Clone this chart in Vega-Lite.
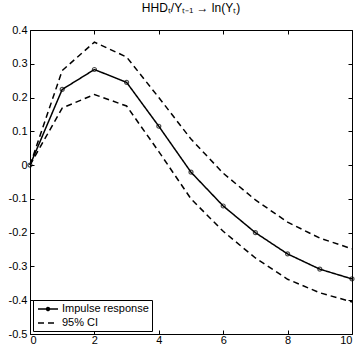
{
  "$schema": "https://vega.github.io/schema/vega-lite/v6.json",
  "width": 322,
  "height": 304,
  "autosize": "none",
  "padding": {"left": 30, "top": 30, "right": 7, "bottom": 13},
  "background": "white",
  "title": {"text": "HHDₜ/Yₜ₋₁ → ln(Yₜ)", "fontSize": 12, "font": "Liberation Sans", "fontWeight": "normal", "color": "black", "offset": 9, "anchor": "middle"},
  "config": {
    "font": "Liberation Sans",
    "view": {"stroke": "black", "strokeWidth": 1},
    "axis": {"grid": false, "domain": false, "tickColor": "black", "tickSize": -4, "labelPadding": 7, "labelColor": "black", "labelFontSize": 11, "labelFont": "Liberation Sans", "title": null}
  },
  "data": {"values": [
    {"x": 0, "value": 0, "line": "Impulse response", "series": "Impulse response"},
    {"x": 1, "value": 0.224, "line": "Impulse response", "series": "Impulse response"},
    {"x": 2, "value": 0.283, "line": "Impulse response", "series": "Impulse response"},
    {"x": 3, "value": 0.245, "line": "Impulse response", "series": "Impulse response"},
    {"x": 4, "value": 0.115, "line": "Impulse response", "series": "Impulse response"},
    {"x": 5, "value": -0.021, "line": "Impulse response", "series": "Impulse response"},
    {"x": 6, "value": -0.121, "line": "Impulse response", "series": "Impulse response"},
    {"x": 7, "value": -0.2, "line": "Impulse response", "series": "Impulse response"},
    {"x": 8, "value": -0.263, "line": "Impulse response", "series": "Impulse response"},
    {"x": 9, "value": -0.308, "line": "Impulse response", "series": "Impulse response"},
    {"x": 10, "value": -0.337, "line": "Impulse response", "series": "Impulse response"},
    {"x": 0, "value": 0, "line": "Upper", "series": "95% CI"},
    {"x": 1, "value": 0.28, "line": "Upper", "series": "95% CI"},
    {"x": 2, "value": 0.364, "line": "Upper", "series": "95% CI"},
    {"x": 3, "value": 0.32, "line": "Upper", "series": "95% CI"},
    {"x": 4, "value": 0.2, "line": "Upper", "series": "95% CI"},
    {"x": 5, "value": 0.077, "line": "Upper", "series": "95% CI"},
    {"x": 6, "value": -0.024, "line": "Upper", "series": "95% CI"},
    {"x": 7, "value": -0.103, "line": "Upper", "series": "95% CI"},
    {"x": 8, "value": -0.169, "line": "Upper", "series": "95% CI"},
    {"x": 9, "value": -0.216, "line": "Upper", "series": "95% CI"},
    {"x": 10, "value": -0.248, "line": "Upper", "series": "95% CI"},
    {"x": 0, "value": 0, "line": "Lower", "series": "95% CI"},
    {"x": 1, "value": 0.169, "line": "Lower", "series": "95% CI"},
    {"x": 2, "value": 0.209, "line": "Lower", "series": "95% CI"},
    {"x": 3, "value": 0.175, "line": "Lower", "series": "95% CI"},
    {"x": 4, "value": 0.04, "line": "Lower", "series": "95% CI"},
    {"x": 5, "value": -0.1, "line": "Lower", "series": "95% CI"},
    {"x": 6, "value": -0.196, "line": "Lower", "series": "95% CI"},
    {"x": 7, "value": -0.275, "line": "Lower", "series": "95% CI"},
    {"x": 8, "value": -0.338, "line": "Lower", "series": "95% CI"},
    {"x": 9, "value": -0.378, "line": "Lower", "series": "95% CI"},
    {"x": 10, "value": -0.405, "line": "Lower", "series": "95% CI"}
  ]},
  "resolve": {"axis": {"x": "independent", "y": "independent"}},
  "layer": [
    {
      "mark": {"type": "line", "strokeWidth": 1.5, "color": "black"},
      "encoding": {
        "x": {"field": "x", "type": "quantitative", "scale": {"domain": [0, 10], "nice": false}, "axis": {"values": [0, 2, 4, 6, 8, 10], "orient": "bottom", "labelPadding": 4}},
        "y": {"field": "value", "type": "quantitative", "scale": {"domain": [-0.5, 0.4], "nice": false, "zero": false}, "axis": {"values": [-0.5, -0.4, -0.3, -0.2, -0.1, 0, 0.1, 0.2, 0.3, 0.4], "orient": "left", "labelExpr": "replace(format(datum.value, '.1~f'), '−', '-')"}},
        "detail": {"field": "line"},
        "strokeDash": {
          "field": "series", "type": "nominal",
          "scale": {"domain": ["Impulse response", "95% CI"], "range": [[1, 0], [6, 4]]},
          "legend": {
            "title": null, "orient": "bottom-left", "offset": 3,
            "strokeColor": "black", "fillColor": "white", "padding": 3,
            "labelFontSize": 11, "labelColor": "black", "labelFont": "Liberation Sans",
            "symbolSize": 100, "symbolStrokeWidth": 1.5, "symbolStrokeColor": "black",
            "symbolOffset": 6, "rowPadding": 3, "labelOffset": 8,
            "encode": {"symbols": {"update": {"shape": {"signal": "datum.value === 'Impulse response' ? 'M-2,0H2M-0.3,0A0.3,0.3,0,1,1,0.3,0A0.3,0.3,0,1,1,-0.3,0' : 'M-2,0H2'"}}}}
          }
        }
      }
    },
    {
      "transform": [{"filter": "datum.line === 'Impulse response'"}],
      "mark": {"type": "point", "shape": "circle", "size": 16, "filled": false, "color": "black", "strokeWidth": 1.2},
      "encoding": {
        "x": {"field": "x", "type": "quantitative", "scale": {"domain": [0, 10], "nice": false}, "axis": {"values": [0, 2, 4, 6, 8, 10], "orient": "top", "labels": false}},
        "y": {"field": "value", "type": "quantitative", "scale": {"domain": [-0.5, 0.4], "nice": false, "zero": false}, "axis": {"values": [-0.5, -0.4, -0.3, -0.2, -0.1, 0, 0.1, 0.2, 0.3, 0.4], "orient": "right", "labels": false}}
      }
    }
  ]
}
